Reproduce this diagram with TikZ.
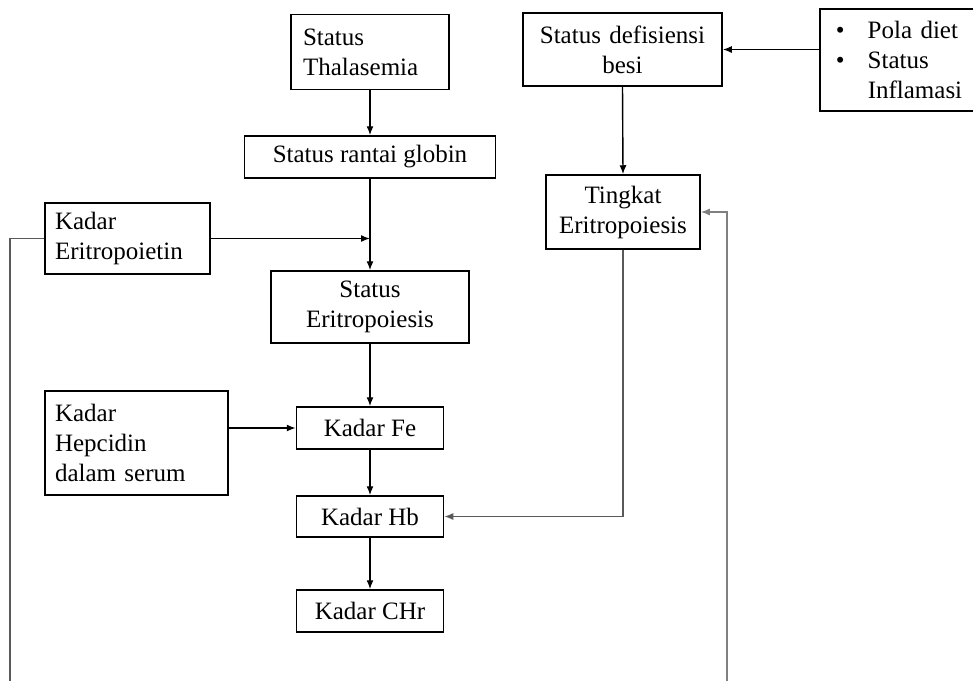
\documentclass[tikz,border=0pt]{standalone}
\usepackage{fontspec}
\setmainfont{Liberation Serif}
\usetikzlibrary{arrows.meta}
\begin{document}
\begin{tikzpicture}[x=1pt,y=-1pt,
  box/.style={draw, line width=1.5pt, inner sep=0pt, font=\fontsize{25}{30}\selectfont},
  arr/.style={line width=1.4pt, -{Latex[length=9pt,width=7pt]}},
  gline/.style={line width=1.6pt, draw=black!65},
]
\useasboundingbox (0,0) rectangle (973,681);
\node[box, minimum width=158pt, minimum height=75pt, text width=134pt, align=left] (thal) at (370,52) {Status\\Thalasemia};
\node[box, minimum width=251pt, minimum height=42pt] (glob) at (370,157) {Status rantai globin};
\node[box, minimum width=165pt, minimum height=71pt, text width=145pt, align=left] (epo) at (127.5,238.5) {Kadar\\Eritropoietin};
\node[box, minimum width=198pt, minimum height=72pt, text width=188pt, align=center] (erit) at (370,307) {Status\\Eritropoiesis};
\node[box, minimum width=183pt, minimum height=104pt, text width=163pt, align=left] (hep) at (136.5,443) {Kadar\\Hepcidin\\dalam serum};
\node[box, minimum width=147pt, minimum height=42pt] (fe) at (370,428) {Kadar Fe};
\node[box, minimum width=147pt, minimum height=41pt] (hb) at (370,516.5) {Kadar Hb};
\node[box, minimum width=147pt, minimum height=42pt] (chr) at (370,611) {Kadar CHr};
\node[box, minimum width=199pt, minimum height=73pt, text width=189pt, align=center] (def) at (622.5,49.5) {Status defisiensi\\besi};
\node[box, minimum width=154pt, minimum height=74pt, text width=144pt, align=center] (ting) at (623,212) {Tingkat\\Eritropoiesis};
\node[box, anchor=west, minimum width=170pt, minimum height=102pt, text width=138pt, align=left] (pola) at (819,60) {\makebox[32pt][l]{•}Pola diet\\\makebox[32pt][l]{•}Status\\\hspace*{32pt}Inflamasi};
\coordinate (lb) at (10,681);
\coordinate (rb) at (727,681);
\draw[arr] (thal.south) -- (glob.north);
\draw[arr] (glob.south) -- (erit.north);
\draw[arr] (epo.east) -- (epo.east -| glob.south);
\draw[gline] (epo.west) -| (lb);
\draw[arr] (erit.south) -- (fe.north);
\draw[arr] (hep.east |- fe.west) -- (fe.west);
\draw[arr] (fe.south) -- (hb.north);
\draw[arr] (hb.south) -- (chr.north);
\draw[arr] (pola.west |- def.east) -- (def.east);
\draw[arr] (def.south) -- (ting.north);
\draw[arr, draw=black!65] (ting.south) |- (hb.east);
\draw[gline, arr, draw=black!50] (rb) |- (ting.east);
\end{tikzpicture}
\end{document}
